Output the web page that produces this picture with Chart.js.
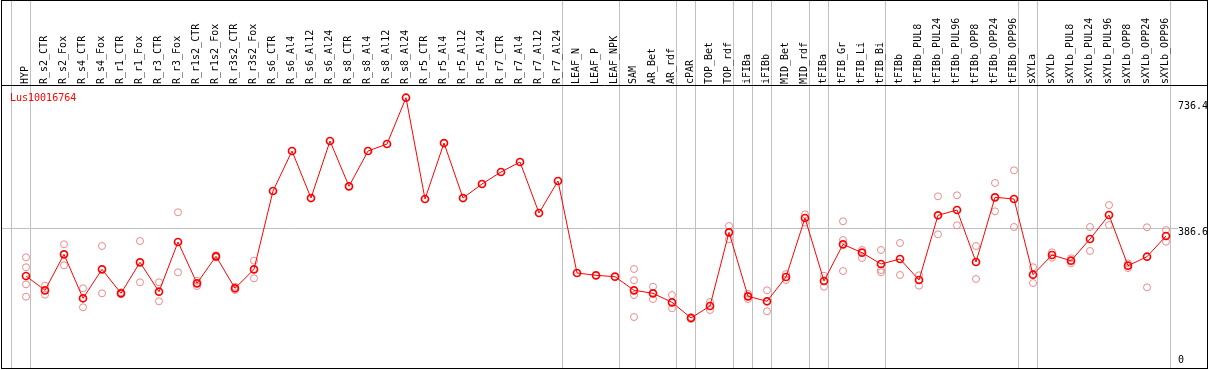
<!DOCTYPE html>
<html>
<head>
<meta charset="utf-8">
<script src="https://cdn.jsdelivr.net/npm/chart.js@4.4.1/dist/chart.umd.min.js"></script>
<style>
  html, body { margin: 0; padding: 0; background: #fff; }
  canvas { display: block; }
</style>
</head>
<body>
<canvas id="grafico" width="1209" height="370"></canvas>
<script>
const geneId = "Lus10016764";

const categories = [
  "HYP", "R_s2_CTR", "R_s2_Fox", "R_s4_CTR", "R_s4_Fox", "R_r1_CTR", "R_r1_Fox", "R_r3_CTR", "R_r3_Fox",
  "R_r1s2_CTR", "R_r1s2_Fox", "R_r3s2_CTR", "R_r3s2_Fox", "R_s6_CTR", "R_s6_Al4", "R_s6_Al12", "R_s6_Al24",
  "R_s8_CTR", "R_s8_Al4", "R_s8_Al12", "R_s8_Al24", "R_r5_CTR", "R_r5_Al4", "R_r5_Al12", "R_r5_Al24",
  "R_r7_CTR", "R_r7_Al4", "R_r7_Al12", "R_r7_Al24", "LEAF_N", "LEAF_P", "LEAF_NPK", "SAM", "AR_Bet", "AR_rdf",
  "cPAR", "TOP_Bet", "TOP_rdf", "iFIBa", "iFIBb", "MID_Bet", "MID_rdf", "tFIBa", "tFIB_Gr", "tFIB_Li", "tFIB_Bi",
  "tFIBb", "tFIBb_PUL8", "tFIBb_PUL24", "tFIBb_PUL96", "tFIBb_OPP8", "tFIBb_OPP24", "tFIBb_OPP96",
  "sXYLa", "sXYLb", "sXYLb_PUL8", "sXYLb_PUL24", "sXYLb_PUL96", "sXYLb_OPP8", "sXYLb_OPP24", "sXYLb_OPP96"
];

// index of the first category of each group (vertical separators)
const groupStarts = [0, 1, 29, 32, 35, 36, 38, 39, 40, 42, 43, 46, 53, 54, 61];

const meanValues = [
  254.6, 215.0, 314.6, 192.9, 273.1, 206.7, 292.5, 211.1, 348.7, 234.4,
  309.1, 220.6, 273.1, 489.8, 600.5, 470.4, 628.2, 502.8, 600.5, 619.9,
  748.0, 467.7, 622.6, 470.4, 509.2, 542.4, 570.1, 428.9, 517.5, 262.9,
  256.5, 252.7, 215.0, 206.7, 181.8, 138.4, 171.6, 375.5, 198.4, 184.6,
  251.8, 415.1, 240.8, 342.3, 319.1, 287.8, 301.6, 243.5, 422.6, 437.2,
  293.3, 472.4, 467.7, 258.2, 312.7, 296.9, 357.0, 423.4, 283.1, 308.0, 365.3
];

const replicateValues = [
  [306.3, 278.7, 231.6, 197.3], [227.8, 202.8], [342.3, 284.2], [220.6, 168.0], [337.6, 206.7],
  [209.5, 204.8], [351.4, 237.2], [237.2, 184.6], [430.9, 264.8], [241.6, 226.9],
  [312.0, 306.0], [225.0, 215.8], [296.9, 248.2],
  [], [], [], [], [], [], [], [], [], [], [], [], [], [], [], [], [], [], [],
  [274.0, 242.7, 202.0, 141.1], [225.0, 190.9], [202.0, 165.2], [141.0, 135.5], [182.7, 160.5],
  [393.0, 356.1], [205.6, 190.9], [215.0, 156.9], [260.1, 243.5], [425.3, 402.1],
  [255.4, 225.0], [406.0, 354.2, 268.4], [326.5, 304.4], [326.5, 271.2, 264.8], [345.9, 257.4],
  [256.5, 227.8], [475.1, 370.0], [477.9, 394.9], [337.6, 246.3], [512.0, 433.6],
  [547.1, 390.2], [278.7, 235.2], [320.2, 305.2], [303.6, 289.7], [390.2, 323.8],
  [451.1, 395.7], [289.7, 276.7], [389.4, 223.3], [381.9, 349.5]
];

const yTicks = [0, 386.6, 736.4];

const fonte = "'DejaVu Sans Mono', 'Liberation Mono', monospace";
const cinza = "#c0c0c0";
const gridShift = 0.76; // separators sit a bit left of each group's first label

const pontosMedia = meanValues.map((v, i) => ({ x: i, y: v }));
const pontosReplicas = [];
replicateValues.forEach((lista, i) => {
  lista.forEach(v => pontosReplicas.push({ x: i, y: v }));
});

// no extra room for the tick labels, the frame is fixed
function semPadding(scale) {
  scale.paddingLeft = 0;
  scale.paddingRight = 0;
  scale.paddingTop = 0;
  scale.paddingBottom = 0;
}

const molduraPlugin = {
  id: "moldura",
  afterDraw(chart) {
    const ctx = chart.ctx;
    const xAxis = chart.scales.x;
    ctx.save();
    ctx.strokeStyle = "#000";
    ctx.lineWidth = 1;
    ctx.strokeRect(1.5, 0.5, 1206, 368);
    ctx.beginPath();
    ctx.moveTo(1, xAxis.bottom + 0.5);
    ctx.lineTo(1208, xAxis.bottom + 0.5);
    ctx.stroke();
    ctx.fillStyle = "#ff0000";
    ctx.font = "10px " + fonte;
    ctx.textBaseline = "top";
    ctx.textAlign = "left";
    ctx.fillText(geneId, 10, chart.chartArea.top + 8);
    ctx.restore();
  }
};

new Chart(document.getElementById("grafico").getContext("2d"), {
  type: "line",
  data: {
    datasets: [
      {
        label: geneId,
        data: pontosMedia,
        borderColor: "#ff0000",
        borderWidth: 1,
        pointRadius: 3.5,
        pointBorderWidth: 1.7,
        pointBorderColor: "#ff0000",
        pointBackgroundColor: "rgba(0,0,0,0)",
        tension: 0
      },
      {
        label: "replicas",
        data: pontosReplicas,
        showLine: false,
        pointRadius: 3.5,
        pointBorderWidth: 1,
        pointBorderColor: "#e98a8a",
        pointBackgroundColor: "rgba(0,0,0,0)"
      }
    ]
  },
  options: {
    responsive: false,
    animation: false,
    devicePixelRatio: 1,
    layout: { autoPadding: false, padding: { left: 2, top: 0, right: 0, bottom: 2 } },
    plugins: {
      legend: { display: false },
      tooltip: { enabled: false }
    },
    scales: {
      x: {
        type: "linear",
        position: "top",
        min: -24 / 19,
        max: 1145 / 19,
        afterBuildTicks: (scale) => {
          scale.ticks = categories.map((c, i) => ({ value: i }))
            .concat(groupStarts.map(g => ({ value: g - gridShift })));
        },
        afterFit: (scale) => {
          scale.height = 85;
          semPadding(scale);
        },
        border: { display: false },
        grid: {
          color: ctx => ctx.index >= categories.length ? cinza : "rgba(0,0,0,0)",
          lineWidth: 1,
          tickLength: 85
        },
        ticks: {
          autoSkip: false,
          minRotation: 90,
          maxRotation: 90,
          padding: -84,
          labelOffset: 11.5,
          color: "#000",
          font: { family: fonte, size: 10 },
          callback: (valor, indice) => indice < categories.length ? categories[indice] : ""
        }
      },
      y: {
        type: "linear",
        position: "right",
        min: 0,
        max: 783.2,
        afterBuildTicks: (scale) => {
          scale.ticks = yTicks.map(v => ({ value: v }));
        },
        afterFit: (scale) => {
          scale.width = 38;
          semPadding(scale);
        },
        border: { display: false },
        grid: {
          color: ctx => ctx.tick && ctx.tick.value === 386.6 ? cinza : "rgba(0,0,0,0)",
          lineWidth: 1,
          tickLength: 7
        },
        ticks: {
          padding: 0,
          labelOffset: 4.5,
          color: "#000",
          font: { family: fonte, size: 10 },
          // lift the zero label back inside the frame
          callback: (valor) => valor === 0 ? ["0", "", ""] : String(valor)
        }
      }
    }
  },
  plugins: [molduraPlugin]
});
</script>
</body>
</html>
